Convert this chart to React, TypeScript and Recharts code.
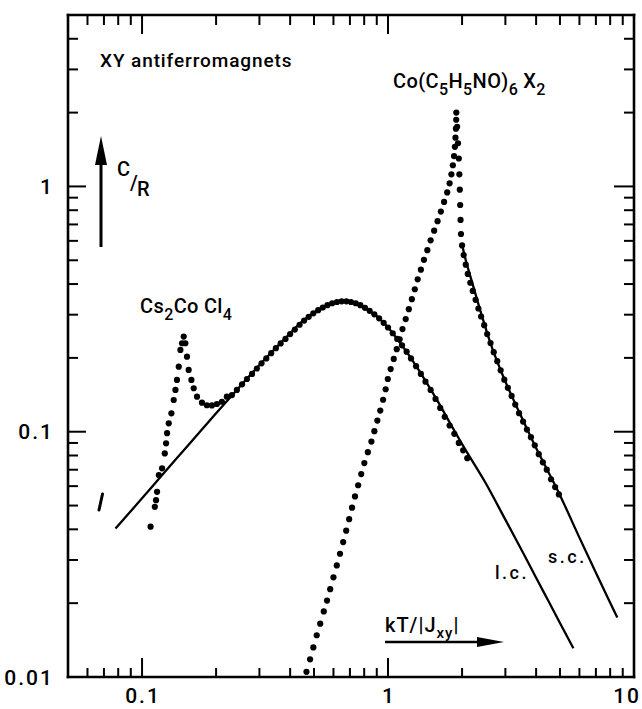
import React from 'react';
import { ComposedChart, XAxis, YAxis, Line, Scatter } from 'recharts';

const FONT = 'Roboto, "Liberation Sans", Arial, sans-serif';

// ---- axis ticks ----
const xTickValues = [0.06, 0.07, 0.08, 0.09, 0.1, 0.2, 0.3, 0.4, 0.5, 0.6, 0.7, 0.8, 0.9, 1, 2, 3, 4, 5, 6, 7, 8, 9, 10];
const yTickValues = [0.01, 0.02, 0.03, 0.04, 0.05, 0.06, 0.07, 0.08, 0.09, 0.1, 0.2, 0.3, 0.4, 0.5, 0.6, 0.7, 0.8, 0.9, 1, 2, 3, 4];
const xMajor = [0.1, 1, 10];
const xMajorLabels = ['0.1', '1', '10'];
const yMajor = [0.01, 0.1, 1];
const yMajorLabels = ['0.01', '0.1', '1'];

// ---- theory curves ----
const lcTheory = [
  { x: 0.078, y: 0.0403 }, { x: 0.1, y: 0.0535 }, { x: 0.12, y: 0.0662 }, { x: 0.15, y: 0.0855 },
  { x: 0.2, y: 0.119 }, { x: 0.25, y: 0.153 }, { x: 0.3, y: 0.187 }, { x: 0.35, y: 0.22 },
  { x: 0.4, y: 0.252 }, { x: 0.45, y: 0.283 }, { x: 0.5, y: 0.306 }, { x: 0.55, y: 0.324 },
  { x: 0.6, y: 0.336 }, { x: 0.65, y: 0.34 }, { x: 0.7, y: 0.338 }, { x: 0.75, y: 0.332 },
  { x: 0.8, y: 0.321 }, { x: 0.9, y: 0.296 }, { x: 1.0, y: 0.266 }, { x: 1.1, y: 0.236 },
  { x: 1.2, y: 0.209 }, { x: 1.4, y: 0.165 }, { x: 1.6, y: 0.132 }, { x: 1.8, y: 0.107 },
  { x: 2.0, y: 0.089 }, { x: 2.5, y: 0.0615 }, { x: 3.0, y: 0.0438 }, { x: 3.5, y: 0.0328 },
  { x: 4.0, y: 0.0254 }, { x: 4.5, y: 0.0203 }, { x: 5.0, y: 0.0166 }, { x: 5.67, y: 0.0131 },
];

const scTheory = [
  { x: 2.0, y: 0.58 }, { x: 2.05, y: 0.52 }, { x: 2.2, y: 0.405 }, { x: 2.4, y: 0.3 },
  { x: 2.6, y: 0.232 }, { x: 3.0, y: 0.16 }, { x: 3.5, y: 0.114 }, { x: 4.0, y: 0.0858 },
  { x: 4.5, y: 0.0681 }, { x: 5.0, y: 0.0551 }, { x: 6.0, y: 0.037 }, { x: 7.0, y: 0.0266 },
  { x: 8.0, y: 0.0201 }, { x: 8.55, y: 0.0175 },
];

// ---- Cs2CoCl4 data ----
const csData = [
  { x: 0.1083, y: 0.041 }, { x: 0.1127, y: 0.0494 }, { x: 0.114, y: 0.0526 }, { x: 0.1151, y: 0.0569 },
  { x: 0.117, y: 0.0666 }, { x: 0.1206, y: 0.0709 }, { x: 0.1237, y: 0.0816 }, { x: 0.1252, y: 0.0897 },
  { x: 0.1264, y: 0.0986 }, { x: 0.1284, y: 0.1082 }, { x: 0.1316, y: 0.1189 }, { x: 0.1345, y: 0.1347 },
  { x: 0.1367, y: 0.148 }, { x: 0.1387, y: 0.1626 }, { x: 0.141, y: 0.1842 }, { x: 0.1432, y: 0.2156 },
  { x: 0.1454, y: 0.2295 }, { x: 0.1477, y: 0.2443 }, { x: 0.15, y: 0.2295 }, { x: 0.1523, y: 0.2023 },
  { x: 0.1547, y: 0.1786 }, { x: 0.1587, y: 0.1626 }, { x: 0.1622, y: 0.1504 }, { x: 0.1673, y: 0.139 },
  { x: 0.1752, y: 0.1313 }, { x: 0.1835, y: 0.1282 }, { x: 0.1923, y: 0.128 }, { x: 0.2015, y: 0.1297 },
  { x: 0.2112, y: 0.1325 }, { x: 0.2212, y: 0.139 }, { x: 0.232, y: 0.141 }, { x: 0.243, y: 0.148 },
  { x: 0.255, y: 0.156 }, { x: 0.267, y: 0.164 }, { x: 0.28, y: 0.172 }, { x: 0.293, y: 0.181 },
  { x: 0.306, y: 0.19 }, { x: 0.32, y: 0.199 }, { x: 0.335, y: 0.209 }, { x: 0.35, y: 0.219 },
  { x: 0.366, y: 0.229 }, { x: 0.383, y: 0.239 }, { x: 0.4, y: 0.25 }, { x: 0.418, y: 0.261 },
  { x: 0.437, y: 0.273 }, { x: 0.456, y: 0.284 }, { x: 0.476, y: 0.294 }, { x: 0.497, y: 0.304 },
  { x: 0.52, y: 0.313 }, { x: 0.543, y: 0.321 }, { x: 0.567, y: 0.328 }, { x: 0.593, y: 0.334 },
  { x: 0.62, y: 0.338 }, { x: 0.648, y: 0.34 }, { x: 0.677, y: 0.34 }, { x: 0.707, y: 0.338 },
  { x: 0.739, y: 0.334 }, { x: 0.772, y: 0.328 }, { x: 0.806, y: 0.32 }, { x: 0.842, y: 0.311 },
  { x: 0.88, y: 0.301 }, { x: 0.92, y: 0.29 }, { x: 0.96, y: 0.278 }, { x: 1.0, y: 0.266 },
  { x: 1.045, y: 0.252 }, { x: 1.09, y: 0.239 }, { x: 1.14, y: 0.225 }, { x: 1.19, y: 0.212 },
  { x: 1.24, y: 0.199 }, { x: 1.3, y: 0.185 }, { x: 1.36, y: 0.172 }, { x: 1.42, y: 0.16 },
  { x: 1.49, y: 0.148 }, { x: 1.56, y: 0.136 }, { x: 1.63, y: 0.125 }, { x: 1.7, y: 0.115 },
  { x: 1.78, y: 0.106 }, { x: 1.86, y: 0.098 }, { x: 1.94, y: 0.09 }, { x: 2.02, y: 0.084 },
  { x: 2.1, y: 0.078 },
];

// ---- Co(C5H5NO)6X2 data ----
const coData = [
  { x: 0.466, y: 0.0105 }, { x: 0.482, y: 0.0118 }, { x: 0.497, y: 0.0132 }, { x: 0.513, y: 0.0148 },
  { x: 0.53, y: 0.0165 }, { x: 0.548, y: 0.0185 }, { x: 0.565, y: 0.0205 }, { x: 0.582, y: 0.0228 },
  { x: 0.6, y: 0.0255 }, { x: 0.619, y: 0.0285 }, { x: 0.638, y: 0.0318 }, { x: 0.657, y: 0.0355 },
  { x: 0.676, y: 0.0395 }, { x: 0.695, y: 0.044 }, { x: 0.714, y: 0.049 }, { x: 0.734, y: 0.0545 },
  { x: 0.756, y: 0.0605 }, { x: 0.778, y: 0.0672 }, { x: 0.801, y: 0.0745 }, { x: 0.828, y: 0.0825 },
  { x: 0.856, y: 0.0912 }, { x: 0.88, y: 0.1005 }, { x: 0.905, y: 0.111 }, { x: 0.93, y: 0.122 },
  { x: 0.955, y: 0.135 }, { x: 0.978, y: 0.149 }, { x: 0.998, y: 0.164 }, { x: 1.025, y: 0.18 },
  { x: 1.055, y: 0.198 }, { x: 1.085, y: 0.217 }, { x: 1.115, y: 0.238 }, { x: 1.145, y: 0.262 },
  { x: 1.18, y: 0.288 }, { x: 1.215, y: 0.316 }, { x: 1.25, y: 0.347 }, { x: 1.285, y: 0.381 },
  { x: 1.32, y: 0.418 }, { x: 1.36, y: 0.458 }, { x: 1.4, y: 0.502 }, { x: 1.445, y: 0.55 },
  { x: 1.49, y: 0.603 }, { x: 1.54, y: 0.66 }, { x: 1.59, y: 0.722 }, { x: 1.64, y: 0.79 },
  { x: 1.69, y: 0.865 }, { x: 1.74, y: 0.945 }, { x: 1.78, y: 1.03 }, { x: 1.81, y: 1.12 },
  { x: 1.835, y: 1.22 }, { x: 1.855, y: 1.33 }, { x: 1.87, y: 1.45 }, { x: 1.88, y: 1.58 },
  { x: 1.888, y: 1.72 }, { x: 1.893, y: 1.87 }, { x: 1.895, y: 2.0 },
  { x: 1.91, y: 1.75 }, { x: 1.925, y: 1.5 }, { x: 1.94, y: 1.3 }, { x: 1.95, y: 1.12 },
  { x: 1.958, y: 0.97 }, { x: 1.965, y: 0.84 }, { x: 1.972, y: 0.73 }, { x: 1.98, y: 0.64 },
  { x: 2.0, y: 0.575 }, { x: 2.03, y: 0.525 }, { x: 2.07, y: 0.48 }, { x: 2.11, y: 0.44 },
  { x: 2.16, y: 0.405 }, { x: 2.21, y: 0.375 }, { x: 2.27, y: 0.345 }, { x: 2.33, y: 0.318 },
  { x: 2.39, y: 0.295 }, { x: 2.46, y: 0.272 }, { x: 2.53, y: 0.25 }, { x: 2.61, y: 0.23 },
  { x: 2.69, y: 0.211 }, { x: 2.78, y: 0.194 }, { x: 2.87, y: 0.178 }, { x: 2.97, y: 0.163 },
  { x: 3.07, y: 0.151 }, { x: 3.18, y: 0.14 }, { x: 3.29, y: 0.129 }, { x: 3.41, y: 0.119 },
  { x: 3.54, y: 0.11 }, { x: 3.67, y: 0.102 }, { x: 3.81, y: 0.095 }, { x: 3.95, y: 0.088 },
  { x: 4.1, y: 0.081 }, { x: 4.26, y: 0.075 }, { x: 4.42, y: 0.07 }, { x: 4.6, y: 0.064 },
  { x: 4.78, y: 0.0595 }, { x: 4.95, y: 0.0555 },
];

const near = (a: number, b: number) => Math.abs(a - b) < 1e-9 * Math.max(1, Math.abs(b));
const idxOf = (list: number[], v: number) => list.findIndex((m) => near(m, v));

const TICK_STYLE = { stroke: '#000', strokeWidth: 2 };
const LABEL_STYLE: any = { fontFamily: FONT, fontSize: 21, fontWeight: 500, fill: '#000', letterSpacing: 2 };

const BottomTick = (p: any) => {
  const v = p.payload.value;
  const i = idxOf(xMajor, v);
  const len = i >= 0 ? 19 : 9;
  const last = v > 9.99;
  return (
    <g>
      {!last && <line x1={p.x} y1={p.y} x2={p.x} y2={p.y - len} {...TICK_STYLE} />}
      {i >= 0 && (
        <text x={last ? p.x + 7 : p.x + 1} y={p.y + 26} textAnchor={last ? 'end' : 'middle'} {...LABEL_STYLE}>
          {xMajorLabels[i]}
        </text>
      )}
    </g>
  );
};

const TopTick = (p: any) => {
  const v = p.payload.value;
  const i = idxOf(xMajor, v);
  const len = i >= 0 ? 19 : 10;
  if (v > 9.99) return <g />;
  return <line x1={p.x} y1={p.y} x2={p.x} y2={p.y + len} {...TICK_STYLE} />;
};

const LeftTick = (p: any) => {
  const v = p.payload.value;
  const i = idxOf(yMajor, v);
  const len = i >= 0 ? 18 : 10;
  return (
    <g>
      {v > 0.0101 && <line x1={p.x} y1={p.y} x2={p.x + len} y2={p.y} {...TICK_STYLE} />}
      {i >= 0 && (
        <text x={p.x - 14} y={p.y + 2} textAnchor="end" dominantBaseline="middle" {...LABEL_STYLE}>
          {yMajorLabels[i]}
        </text>
      )}
    </g>
  );
};

const RightTick = (p: any) => {
  const v = p.payload.value;
  const i = idxOf(yMajor, v);
  const len = i >= 0 ? 20 : 10;
  if (v < 0.0101) return <g />;
  return <line x1={p.x} y1={p.y} x2={p.x - len} y2={p.y} {...TICK_STYLE} />;
};

const Dot = (p: any) => <circle cx={p.cx} cy={p.cy} r={3.1} fill="#000" />;

const AXIS_LINE = { stroke: '#000', strokeWidth: 2.6, strokeLinecap: 'square' as const };

const TXT: any = { fontFamily: FONT, fontWeight: 500, fill: '#000' };

export default function App() {
  return (
    <div style={{ position: 'absolute', left: 0, top: 0, width: 642, height: 709, background: '#fff' }}>
      <ComposedChart width={642} height={709} margin={{ top: 14, right: 7, bottom: 2, left: 8 }}>
        <XAxis
          xAxisId={0}
          dataKey="x"
          type="number"
          scale="log"
          domain={[0.05, 10]}
          allowDataOverflow
          ticks={xTickValues}
          interval={0}
          tickSize={0}
          tickMargin={0}
          height={30}
          axisLine={AXIS_LINE}
          tickLine={false}
          tick={<BottomTick />}
        />
        <XAxis
          xAxisId="top"
          orientation="top"
          dataKey="x"
          type="number"
          scale="log"
          domain={[0.05, 10]}
          allowDataOverflow
          ticks={xTickValues}
          interval={0}
          tickSize={0}
          tickMargin={0}
          height={1}
          axisLine={AXIS_LINE}
          tickLine={false}
          tick={<TopTick />}
        />
        <YAxis
          yAxisId={0}
          dataKey="y"
          type="number"
          scale="log"
          domain={[0.01, 5]}
          allowDataOverflow
          ticks={yTickValues}
          interval={0}
          tickSize={0}
          tickMargin={0}
          width={60}
          axisLine={AXIS_LINE}
          tickLine={false}
          tick={<LeftTick />}
        />
        <YAxis
          yAxisId="right"
          orientation="right"
          dataKey="y"
          type="number"
          scale="log"
          domain={[0.01, 5]}
          allowDataOverflow
          ticks={yTickValues}
          interval={0}
          tickSize={0}
          tickMargin={0}
          width={1}
          axisLine={AXIS_LINE}
          tickLine={false}
          tick={<RightTick />}
        />
        <Line data={lcTheory} dataKey="y" type="monotone" stroke="#000" strokeWidth={2.3} dot={false} isAnimationActive={false} />
        <Line data={scTheory} dataKey="y" type="monotone" stroke="#000" strokeWidth={2.3} dot={false} isAnimationActive={false} />
        <Scatter data={csData} dataKey="y" shape={<Dot />} isAnimationActive={false} />
        <Scatter data={coData} dataKey="y" shape={<Dot />} isAnimationActive={false} />
      </ComposedChart>

      <svg width={642} height={709} style={{ position: 'absolute', left: 0, top: 0, pointerEvents: 'none' }}>
        <text x={100} y={67} fontSize={19} letterSpacing={0.9} {...TXT}>XY antiferromagnets</text>

        <text x={393} y={88} fontSize={20} letterSpacing={0.4} {...TXT}>
          Co(C<tspan dy={7} fontSize={16}>5</tspan>
          <tspan dy={-7}>H</tspan><tspan dy={7} fontSize={16}>5</tspan>
          <tspan dy={-7}>NO)</tspan><tspan dy={7} fontSize={16}>6</tspan>
          <tspan dy={-7} dx={5}>X</tspan><tspan dy={7} fontSize={16}>2</tspan>
        </text>

        <text x={140} y={313} fontSize={20} letterSpacing={0.4} {...TXT}>
          Cs<tspan dy={7} fontSize={16}>2</tspan>
          <tspan dy={-7}>Co</tspan><tspan dx={5}>Cl</tspan><tspan dy={7} fontSize={16}>4</tspan>
        </text>

        {/* C/R arrow */}
        <line x1={101} y1={247} x2={101} y2={160} stroke="#000" strokeWidth={3} />
        <polygon points="101,136 95,165 107,165" fill="#000" />
        <text x={117} y={176} fontSize={20} {...TXT}>C</text>
        <text x={130} y={190} fontSize={20} {...TXT}>/</text>
        <text x={137} y={196} fontSize={20} {...TXT}>R</text>

        {/* kT/|Jxy| arrow */}
        <text x={385} y={632} fontSize={20} letterSpacing={1} {...TXT}>
          kT/|J<tspan dy={6} fontSize={15}>xy</tspan><tspan dy={-6}>|</tspan>
        </text>
        <line x1={385} y1={642} x2={480} y2={642} stroke="#000" strokeWidth={2.6} />
        <polygon points="504,642 477,637 477,647" fill="#000" />

        <text x={495} y={579} fontSize={18} letterSpacing={2.5} {...TXT}>l.c.</text>
        <text x={548} y={563} fontSize={18} letterSpacing={2.5} {...TXT}>s.c.</text>

        {/* scan mark at left */}
        <line x1={99} y1={510} x2={102.5} y2={494} stroke="#000" strokeWidth={3} strokeLinecap="round" />
      </svg>
    </div>
  );
}
